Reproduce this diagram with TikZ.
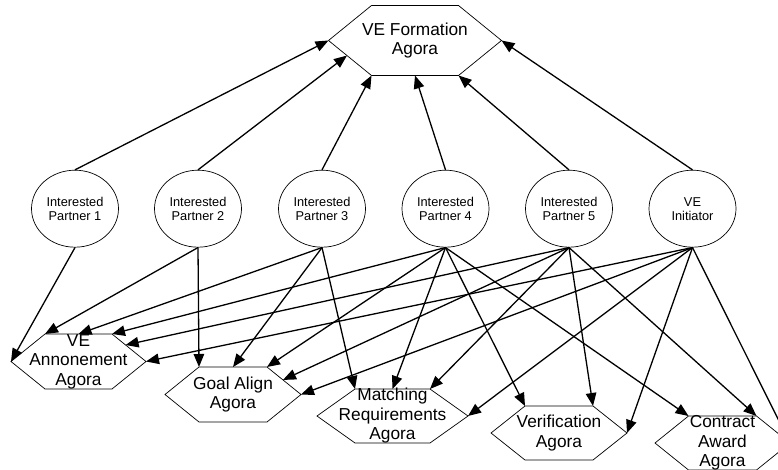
\documentclass[tikz,border=0pt]{standalone}
\usepackage{fontspec}
\setmainfont{Liberation Sans}
\usetikzlibrary{arrows.meta,shapes.geometric,calc}

% hexagonal agora: name, centre x, centre y, half width, corner inset, half height, label
\newcommand\agorahex[7]{%
  \coordinate (#1-w)  at (#2-#4,#3);
  \coordinate (#1-e)  at (#2+#4,#3);
  \coordinate (#1-nw) at (#2-#4+#5,#3-#6);
  \coordinate (#1-ne) at (#2+#4-#5,#3-#6);
  \coordinate (#1-sw) at (#2-#4+#5,#3+#6);
  \coordinate (#1-se) at (#2+#4-#5,#3+#6);
  \coordinate (#1-n)  at (#2,#3-#6);
  \coordinate (#1-s)  at (#2,#3+#6);
  \draw[hexline] (#1-w) -- (#1-nw) -- (#1-ne) -- (#1-e) -- (#1-se) -- (#1-sw) -- cycle;
  \node[agoratext] (#1) at (#2,#3) {#7};
}

\tikzset{
  hexline/.style={draw, line width=0.7pt, line join=miter},
  agoratext/.style={align=center, inner sep=0pt, font=\fontsize{17.3}{19.5}\selectfont},
  partner/.style={draw, ellipse, line width=0.7pt, minimum width=87pt, minimum height=77pt,
                  inner sep=0pt, align=center, font=\fontsize{12.8}{14}\selectfont},
  conn/.style={line width=1.3pt, -{Triangle[length=13pt,width=10.5pt]}}
}

\begin{document}
\begin{tikzpicture}[x=1pt, y=-1pt]
\useasboundingbox (0,0) rectangle (778,470);
\clip (0,0) rectangle (778,470);

% agoras
\agorahex{form}{415}{40.5}{86.5}{43}{35}{VE Formation\\Agora}
\agorahex{ann}{78.5}{361.5}{67.5}{34}{27.5}{VE\\Annonement\\Agora}
\agorahex{goal}{233}{394.5}{68}{34}{27.5}{Goal Align\\Agora}
\agorahex{match}{392.5}{416}{75.5}{38}{27}{Matching\\Requirements\\Agora}
\agorahex{verif}{559}{433}{68}{34}{27}{Verification\\Agora}
\agorahex{award}{722.5}{443}{67.5}{33.5}{27}{Contract\\Award\\Agora}

% points along hexagon sides
\coordinate (form-lw) at ($(form-w)!0.43!(form-sw)$);
\coordinate (ann-re)  at ($(ann-ne)!0.4!(ann-e)$);
\coordinate (goal-re) at ($(goal-ne)!0.47!(goal-e)$);

% participants
\node[partner] (ip1)  at (75,208.7)    {Interested\\Partner 1};
\node[partner] (ip2)  at (198,208.7)   {Interested\\Partner 2};
\node[partner] (ip3)  at (322,208.7)   {Interested\\Partner 3};
\node[partner] (ip4)  at (445.5,208.7) {Interested\\Partner 4};
\node[partner] (ip5)  at (569,208.7)   {Interested\\Partner 5};
\node[partner] (init) at (692.5,208.7) {VE\\Initiator};

% joining the formation agora
\draw[conn] (ip1.north)  -- (form-w);
\draw[conn] (ip2.north)  -- (form-lw);
\draw[conn] (ip3.north)  -- (form-sw);
\draw[conn] (ip4.north)  -- (form-s);
\draw[conn] (ip5.north)  -- (form-se);
\draw[conn] (init.north) -- (form-e);

% VE announcement agora
\draw[conn] (ip1.south)  -- (ann-w);
\draw[conn] (ip2.south)  -- (ann-nw);
\draw[conn] (ip3.south)  -- (ann-n);
\draw[conn] (ip4.south)  -- (ann-ne);
\draw[conn] (ip5.south)  -- (ann-re);
\draw[conn] (init.south) -- (ann-e);

% goal alignment agora
\draw[conn] (ip2.south)  -- (goal-nw);
\draw[conn] (ip3.south)  -- (goal-n);
\draw[conn] (ip4.south)  -- (goal-ne);
\draw[conn] (ip5.south)  -- (goal-re);
\draw[conn] (init.south) -- (goal-e);

% matching requirements agora
\draw[conn] (ip3.south)  -- (match-nw);
\draw[conn] (ip4.south)  -- (match-n);
\draw[conn] (ip5.south)  -- (match-ne);
\draw[conn] (init.south) -- (match-e);

% verification agora
\draw[conn] (ip4.south)  -- (verif-nw);
\draw[conn] (ip5.south)  -- (verif-ne);
\draw[conn] (init.south) -- (verif-e);

% contract award agora
\draw[conn] (ip4.south)  -- (award-nw);
\draw[conn] (ip5.south)  -- (award-ne);
\draw[conn] (init.south) -- (award-e);
\end{tikzpicture}
\end{document}
